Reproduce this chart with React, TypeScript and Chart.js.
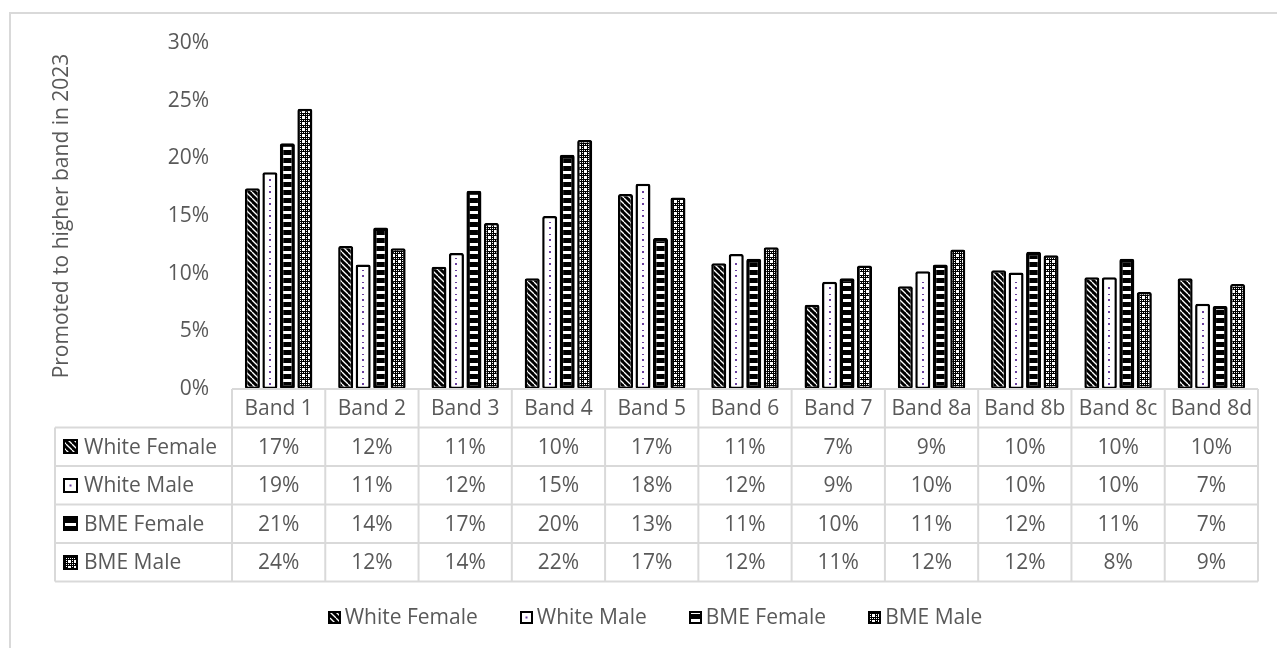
import { useEffect, useRef } from "react";
import { Chart, registerables } from "chart.js";

Chart.register(...registerables);

// Promotion rates (%) by pay band and staff group, 2023
const bands = ["Band 1", "Band 2", "Band 3", "Band 4", "Band 5", "Band 6", "Band 7", "Band 8a", "Band 8b", "Band 8c", "Band 8d"];
const seriesNames = ["White Female", "White Male", "BME Female", "BME Male"];
const whiteFemale = [17.4, 12.4, 10.6, 9.6, 16.9, 10.9, 7.3, 8.9, 10.3, 9.7, 9.6];
const whiteMale = [18.8, 10.8, 11.8, 15.0, 17.8, 11.7, 9.3, 10.2, 10.1, 9.7, 7.4];
const bmeFemale = [21.3, 14.0, 17.2, 20.3, 13.1, 11.3, 9.6, 10.8, 11.9, 11.3, 7.2];
const bmeMale = [24.3, 12.2, 14.4, 21.6, 16.6, 12.3, 10.7, 12.1, 11.6, 8.4, 9.1];
const yTickValues = [0, 5, 10, 15, 20, 25, 30];
const yTitle = "Promoted to higher band in 2023";

const FONT_FAMILY = '"Open Sans", sans-serif';
const FONT_SIZE = 21;
const TEXT_COLOR = "#595959";
const LINE_COLOR = "#d9d9d9";
const DOT_COLOR = "#6b3fa0";

function tile(w: number, h: number, draw: (g: CanvasRenderingContext2D) => void): CanvasPattern {
  const c = document.createElement("canvas");
  c.width = w;
  c.height = h;
  const g = c.getContext("2d")!;
  draw(g);
  return g.createPattern(c, "repeat")!;
}

function makePatterns() {
  const diagonal = tile(6, 6, (g) => {
    g.fillStyle = "#000";
    g.fillRect(0, 0, 6, 6);
    g.strokeStyle = "#fff";
    g.lineWidth = 1.3;
    for (let k = -1; k <= 1; k++) {
      g.beginPath();
      g.moveTo(k * 6, 0);
      g.lineTo(k * 6 + 6, 6);
      g.stroke();
    }
  });
  const stripes = tile(1, 8, (g) => {
    g.fillStyle = "#000";
    g.fillRect(0, 0, 1, 8);
    g.fillStyle = "#fff";
    g.fillRect(0, 3, 1, 3);
  });
  const checker = tile(6, 6, (g) => {
    g.fillStyle = "#000";
    g.fillRect(0, 0, 6, 6);
    g.fillStyle = "#fff";
    for (let x = 0; x < 6; x += 2) {
      for (let y = 0; y < 6; y += 2) g.fillRect(x, y, 1, 1);
    }
    g.fillRect(3, 2, 1, 3);
    g.fillRect(2, 3, 3, 1);
  });
  return [diagonal, "#ffffff", stripes, checker] as (CanvasPattern | string)[];
}

function drawSwatch(ctx: CanvasRenderingContext2D, fill: CanvasPattern | string, idx: number, x: number, y: number, s: number) {
  ctx.save();
  ctx.fillStyle = "#000";
  ctx.fillRect(x, y, s, s);
  ctx.fillStyle = fill as any;
  ctx.fillRect(x + 2, y + 2, s - 4, s - 4);
  if (idx === 1) {
    ctx.fillStyle = DOT_COLOR;
    ctx.fillRect(x + s / 2 - 1, y + s / 2 - 1, 2, 2);
  }
  ctx.restore();
}

export default function App() {
  const ref = useRef<HTMLCanvasElement>(null);

  useEffect(() => {
    const canvas = ref.current!;
    const fills = makePatterns();
    const allSeries = [whiteFemale, whiteMale, bmeFemale, bmeMale];
    const font = `${FONT_SIZE}px ${FONT_FAMILY}`;

    const framePlugin = {
      id: "frame",
      beforeDraw(chart: Chart) {
        const ctx = chart.ctx;
        ctx.save();
        ctx.fillStyle = "#fff";
        ctx.fillRect(0, 0, chart.width, chart.height);
        ctx.strokeStyle = LINE_COLOR;
        ctx.lineWidth = 2;
        ctx.strokeRect(10, 13, chart.width + 40, chart.height + 40);
        ctx.restore();
      },
    };

    // Dotted centre line inside the white bars
    const dotsPlugin = {
      id: "dots",
      afterDatasetsDraw(chart: Chart) {
        const ctx = chart.ctx;
        const meta = chart.getDatasetMeta(1);
        ctx.save();
        ctx.fillStyle = DOT_COLOR;
        meta.data.forEach((el: any) => {
          const { x, y, base } = el.getProps(["x", "y", "base"], true);
          let n = 0;
          for (let yy = base - 5; yy > y + 5; yy -= 6) {
            if (n % 2 === 0) ctx.fillRect(Math.round(x) - 1, Math.round(yy) - 1, 2, 2);
            else ctx.fillRect(Math.round(x) - 1, Math.round(yy), 2, 1);
            n++;
          }
        });
        ctx.restore();
      },
    };

    // Data table under the plot plus the bottom legend
    const tablePlugin = {
      id: "dataTable",
      afterDraw(chart: Chart) {
        const ctx = chart.ctx;
        const area = chart.chartArea;
        const xs = chart.scales.x;
        const n = bands.length;
        const colW = (area.right - area.left) / n;
        const top = area.bottom;
        const headerH = 38.5;
        const rowH = 38.5;
        const labelLeft = 55;
        const bottom = top + headerH + rowH * seriesNames.length;

        ctx.save();
        ctx.strokeStyle = LINE_COLOR;
        ctx.lineWidth = 2;
        ctx.beginPath();
        ctx.moveTo(area.left, top);
        ctx.lineTo(area.right, top);
        for (let i = 0; i <= n; i++) {
          const x = area.left + i * colW;
          ctx.moveTo(x, top);
          ctx.lineTo(x, bottom);
        }
        for (let r = 0; r <= seriesNames.length; r++) {
          const y = top + headerH + r * rowH;
          ctx.moveTo(labelLeft, y);
          ctx.lineTo(area.right, y);
        }
        ctx.moveTo(labelLeft, top + headerH);
        ctx.lineTo(labelLeft, bottom);
        ctx.stroke();

        ctx.font = font;
        ctx.fillStyle = TEXT_COLOR;
        ctx.textBaseline = "middle";
        ctx.textAlign = "center";
        bands.forEach((b, i) => {
          ctx.fillText(b, xs.getPixelForValue(i), top + headerH / 2 + 1);
        });
        allSeries.forEach((vals, r) => {
          const cy = top + headerH + r * rowH + rowH / 2 + 1;
          vals.forEach((v, i) => {
            ctx.fillText(`${Math.round(v)}%`, xs.getPixelForValue(i), cy);
          });
        });
        ctx.textAlign = "left";
        seriesNames.forEach((name, r) => {
          const cy = top + headerH + r * rowH + rowH / 2;
          drawSwatch(ctx, fills[r], r, 63, Math.round(cy - 7.5), 15);
          ctx.fillStyle = TEXT_COLOR;
          ctx.fillText(name, 84, cy + 1);
        });

        // legend
        const box = 13;
        const gapText = 4;
        const gapItem = 42;
        const widths = seriesNames.map((s) => box + gapText + ctx.measureText(s).width);
        const total = widths.reduce((a, b) => a + b, 0) + gapItem * (seriesNames.length - 1);
        let x = 655 - total / 2;
        const ly = 617;
        seriesNames.forEach((name, i) => {
          drawSwatch(ctx, fills[i], i, Math.round(x), Math.round(ly - box / 2), box);
          ctx.fillStyle = TEXT_COLOR;
          ctx.fillText(name, x + box + gapText, ly + 1);
          x += widths[i] + gapItem;
        });
        ctx.restore();
      },
    };

    const chart = new Chart(canvas, {
      type: "bar",
      data: {
        labels: bands,
        datasets: allSeries.map((vals, i) => ({
          label: seriesNames[i],
          data: vals,
          backgroundColor: fills[i] as any,
          borderColor: "#000",
          borderWidth: i === 2 ? 3.5 : 2.5,
          borderSkipped: false,
          borderRadius: 2,
          categoryPercentage: 0.75,
          barPercentage: 0.86,
        })),
      },
      options: {
        animation: false,
        responsive: false,
        devicePixelRatio: 1,
        layout: { padding: { left: 0, top: 43, right: 19, bottom: 648 - 389 } },
        plugins: {
          legend: { display: false },
          tooltip: { enabled: false },
        },
        scales: {
          x: { display: false },
          y: {
            min: 0,
            max: 30,
            afterFit: (scale: any) => {
              scale.width = 232;
            },
            afterBuildTicks: (scale: any) => {
              scale.ticks = yTickValues.map((v) => ({ value: v }));
            },
            grid: { display: false, drawTicks: false },
            border: { display: false },
            ticks: {
              padding: 23,
              color: TEXT_COLOR,
              font: { family: FONT_FAMILY, size: FONT_SIZE },
              callback: (v: any) => `${v}%`,
            },
            title: {
              display: true,
              text: yTitle,
              color: TEXT_COLOR,
              font: { family: FONT_FAMILY, size: FONT_SIZE },
              padding: { top: 49, bottom: 0 },
            },
          },
        },
      },
      plugins: [framePlugin, dotsPlugin, tablePlugin],
    });

    return () => chart.destroy();
  }, []);

  return (
    <div style={{ position: "absolute", left: 0, top: 0, width: 1277, height: 648, background: "#fff" }}>
      <canvas ref={ref} width={1277} height={648} style={{ display: "block" }} />
    </div>
  );
}
